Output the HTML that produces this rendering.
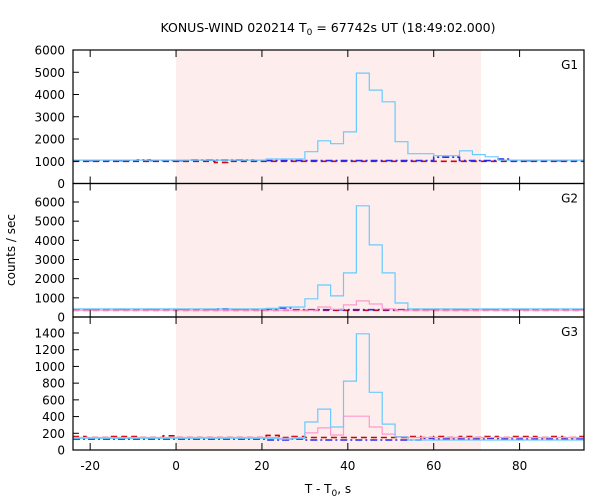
<!DOCTYPE html>
<html><head><meta charset="utf-8"><style>
body{margin:0;background:#fff}
svg{display:block;font-family:"DejaVu Sans","Liberation Sans",sans-serif}
</style></head><body>
<svg id="c" width="600" height="500" viewBox="0 0 600 500">
<text x="328" y="32" font-size="12.5" text-anchor="middle">KONUS-WIND 020214 T<tspan font-size="9" dy="3">0</tspan><tspan dy="-3"> = 67742s UT (18:49:02.000)</tspan></text>
<text transform="translate(15,250) rotate(-90)" font-size="12" text-anchor="middle">counts / sec</text>
<text x="328" y="493" font-size="12" text-anchor="middle">T - T<tspan font-size="9" dy="3">0</tspan><tspan dy="-3">, s</tspan></text>
<g id="g"></g>
</svg>
<script>
const binStart = -24, binWidth = 3;
const xTicks = [-20, 0, 20, 40, 60, 80];
const shadeRange = [0, 71];
const panelNames = ["G1", "G2", "G3"];
const panelMax = [6000, 6500, 1500];
const yTicksG1 = [0, 1000, 2000, 3000, 4000, 5000, 6000];
const yTicksG2 = [0, 1000, 2000, 3000, 4000, 5000, 6000];
const yTicksG3 = [0, 200, 400, 600, 800, 1000, 1200, 1400];
const cyanG1 = [1050,1050,1050,1050,1050,1050,1050,1050,1050,1050,1050,1050,1050,1050,1050,1100,1100,1100,1430,1920,1790,2320,4960,4200,3670,1880,1340,1340,1250,1250,1470,1300,1200,1050,1050,1050,1050,1050,1050,1050];
const redG1 = [1000,1000,1000,1000,1000,1000,1000,1000,1000,1000,1000,950,1000,1000,1000,1000,1000,1000,1000,1000,1000,1000,1000,1000,1000,1000,1000,1000,1000,1000,1000,1000,1000,1000,1000,1000,1000,1000,1000,1000];
const blueG1 = [1030,1030,1030,1030,1030,1060,1030,1030,1030,1050,1050,1050,1050,1050,1030,1030,1030,1030,1030,1030,1030,1030,1030,1030,1030,1030,1030,1030,1180,1180,1030,1030,1030,1100,1030,1030,1030,1030,1030,1030];
const cyanG2 = [420,420,420,420,420,420,420,420,420,420,420,420,420,420,420,450,520,520,950,1670,1100,2300,5800,3760,2300,730,420,420,420,420,420,420,420,420,420,420,420,420,420,420];
const pinkG2 = [350,350,350,350,350,350,350,350,350,350,350,350,350,350,350,350,350,350,350,520,400,630,840,680,420,350,350,350,350,350,350,350,350,350,350,350,350,350,350,350];
const blueG2 = [380,380,380,380,380,380,380,380,380,380,380,430,380,380,380,430,470,380,380,380,380,380,380,380,380,380,400,400,400,400,380,380,380,380,380,380,380,380,380,380];
const redG2 = [350,350,350,350,350,350,350,350,350,350,350,350,350,350,350,350,350,350,350,350,350,350,350,350,350,350,350,350,350,350,350,350,350,350,350,350,350,350,350,350];
const cyanG3 = [140,140,140,140,140,140,140,140,140,140,140,140,140,140,140,140,130,140,335,490,275,825,1390,690,310,155,120,120,120,120,120,120,120,120,120,120,120,120,120,120];
const pinkG3 = [150,150,150,150,150,150,150,150,150,150,150,150,150,150,150,150,140,150,205,265,180,405,405,275,190,160,150,150,150,150,150,150,150,150,150,150,150,150,150,150];
const redG3 = [160,150,150,160,160,150,150,170,150,150,150,150,150,150,150,175,150,160,150,150,150,150,150,150,150,150,160,150,160,150,160,150,160,150,160,160,150,160,150,160];
const blueG3 = [130,130,130,130,130,130,130,130,130,130,130,130,130,130,130,120,120,130,120,120,120,120,120,120,120,120,120,140,130,130,130,130,140,130,130,130,130,130,130,130];

const L = 73, R = 584, xMin = -24, xMax = 95;
const panelTop = [50, 183.5, 317], panelBot = [183.5, 317, 450];
const panelYmax = [6000, 6000 * (317 - 183.5) / (317 - 202), 1400 * (450 - 317) / (450 - 333)];
const X = v => L + (v - xMin) / (xMax - xMin) * (R - L);
const NS = "http://www.w3.org/2000/svg";
const g = document.getElementById("g");
function mk(tag, attrs, parent) {
  const e = document.createElementNS(NS, tag);
  for (const k in attrs) e.setAttribute(k, attrs[k]);
  (parent || g).appendChild(e);
  return e;
}
function stepPath(vals, Y) {
  let d = "";
  vals.forEach((v, i) => {
    const x0 = Math.max(X(binStart + i * binWidth), L), x1 = Math.min(X(binStart + (i + 1) * binWidth), R);
    if (x1 <= x0) return;
    d += (d ? "L" : "M") + x0.toFixed(1) + "," + Y(v).toFixed(1) + "L" + x1.toFixed(1) + "," + Y(v).toFixed(1);
  });
  return d;
}
const shade = mk("rect", {x: X(shadeRange[0]), y: 50, width: X(shadeRange[1]) - X(shadeRange[0]), height: 400, fill: "#fdeded"});



const series = [
  [[redG1, "#e00000", "6,4", 1.6, "red-dashed-g1"], [blueG1, "#2a2ae8", "7,3,2,3", 1.6, "blue-dashdot-g1"], [cyanG1, "#66ccff", "", 1.2, "cyan-series-g1"]],
  [[redG2, "#e00000", "6,4", 1.6, "red-dashed-g2"], [blueG2, "#2a2ae8", "7,3,2,3", 1.6, "blue-dashdot-g2"], [pinkG2, "#ff99cc", "", 1.2, "pink-series-g2"], [cyanG2, "#66ccff", "", 1.2, "cyan-series-g2"]],
  [[redG3, "#d00000", "6,4", 1.6, "red-dashed-g3"], [blueG3, "#2a2ae8", "7,3,2,3", 1.6, "blue-dashdot-g3"], [pinkG3, "#ff99cc", "", 1.2, "pink-series-g3"], [cyanG3, "#66ccff", "", 1.2, "cyan-series-g3"]]
];
const yTicksAll = [yTicksG1, yTicksG2, yTicksG3];
for (let p = 0; p < 3; p++) {
  const t = panelTop[p], b = panelBot[p], ym = panelYmax[p];
  const Y = v => b - v / ym * (b - t);
  series[p].forEach(s => {
    const path = mk("path", {d: stepPath(s[0], Y), fill: "none", stroke: s[1], "stroke-width": s[3], "stroke-dasharray": s[2]});
    
    
  });
  yTicksAll[p].forEach(v => {
    if (p > 0 && v === yTicksAll[p][yTicksAll[p].length - 1] && Y(v) < t + 2) return;
    const tk = mk("line", {x1: L, x2: L + 6, y1: Y(v), y2: Y(v), stroke: "#000"});
    
    
    const lb = mk("text", {x: L - 8, y: Y(v) + 4.5, "font-size": 12, "text-anchor": "end"});
    lb.textContent = v;
    
    
  });
  xTicks.forEach(v => {
    const a = mk("line", {x1: X(v), x2: X(v), y1: b, y2: b - 7, stroke: "#000"});
    
    
    const c = mk("line", {x1: X(v), x2: X(v), y1: t, y2: t + 7, stroke: "#000"});
    
    
  });
  const nm = mk("text", {x: 578, y: t + 19, "font-size": 12, "text-anchor": "end"});
  nm.textContent = panelNames[p];
  
  
  const box = mk("rect", {x: L, y: t, width: R - L, height: b - t, fill: "none", stroke: "#000", "stroke-width": 1.2});
  
  
}
xTicks.forEach(v => {
  const lb = mk("text", {x: X(v), y: 470, "font-size": 12, "text-anchor": "middle"});
  lb.textContent = v;
  
  
});
</script>
</body></html>
